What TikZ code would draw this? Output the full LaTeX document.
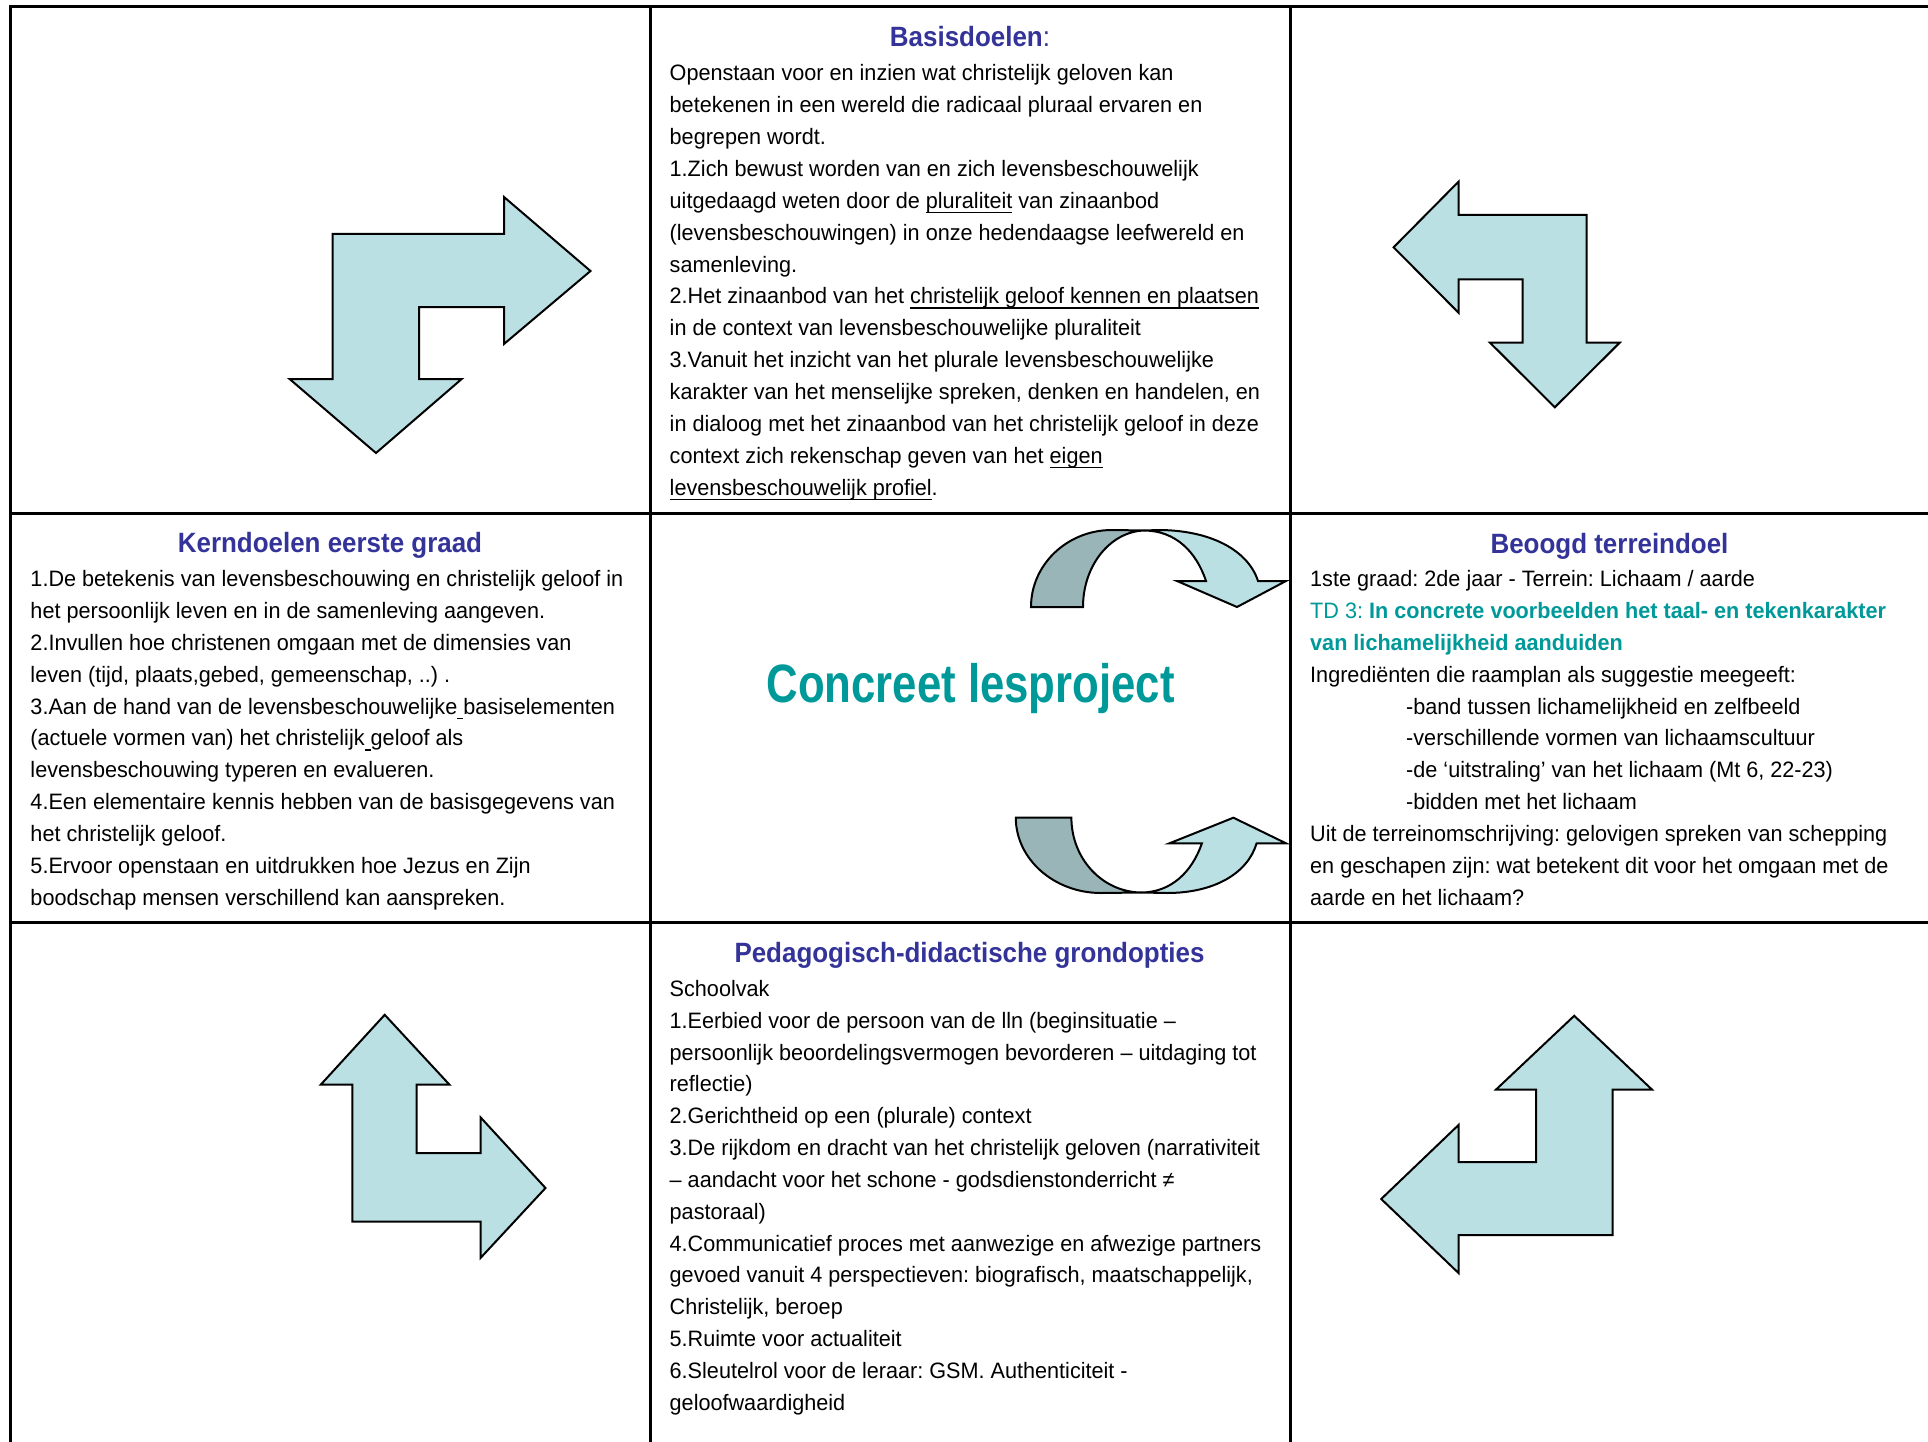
\documentclass[tikz,border=0pt]{standalone}
\usepackage{fontspec}
\setmainfont{Liberation Sans}[FakeStretch=0.97]
\newfontfamily\headfont{Liberation Sans}[FakeStretch=0.93]
\newfontfamily\titlefont{Liberation Sans}[FakeStretch=0.81]
\frenchspacing
\definecolor{headblue}{HTML}{333399}
\definecolor{tdteal}{HTML}{009999}
\definecolor{arrowlight}{HTML}{BBE0E3}
\definecolor{arrowdark}{HTML}{99B5B7}
\newcommand{\bodysize}{\fontsize{22.3}{31.85}\selectfont\frenchspacing}
\newcommand{\ulx}[1]{\setbox0=\hbox{#1}\rlap{\rule[-5pt]{\wd0}{1.5pt}}\box0\relax}
\tikzset{
  gridline/.style={line width=3pt, draw=black},
  bentarrow/.style={draw=black, line width=2pt, fill=arrowlight, line join=miter},
  curvelight/.style={draw=black, line width=2pt, fill=arrowlight, line join=miter},
  curvedark/.style={draw=black, line width=2pt, fill=arrowdark, line join=miter},
  bodytext/.style={anchor=base west, inner sep=0pt, font=\bodysize},
  headtext/.style={anchor=base, inner sep=0pt, text=headblue, font=\headfont\fontsize{27.9}{32}\selectfont},
  titletext/.style={anchor=base, inner sep=0pt, text=tdteal, font=\titlefont\bfseries\fontsize{54}{60}\selectfont},
}
\begin{document}
\begin{tikzpicture}[x=1pt, y=-1pt]
\useasboundingbox[fill=white] (0,0) rectangle (1928,1442);

% bent arrows
\draw[bentarrow] (332.5,234) -- (504,234) -- (504,197) -- (590.5,271) -- (504,344) -- (504,307) -- (419,307) -- (419,379) -- (461.7,379) -- (376,453) -- (289.6,379) -- (332.5,379) -- cycle;
\draw[bentarrow] (1458.5,181.7) -- (1393.6,247.3) -- (1458.5,312.7) -- (1458.5,279.3) -- (1522.6,279.3) -- (1522.6,342.7) -- (1490,342.7) -- (1554.8,407.3) -- (1619.7,342.7) -- (1586.6,342.7) -- (1586.6,215) -- (1458.5,215) -- cycle;
\draw[bentarrow] (384.7,1014.8) -- (449.5,1084.7) -- (416.7,1084.7) -- (416.7,1153) -- (480.6,1153) -- (480.6,1117.4) -- (545.5,1188) -- (480.6,1257.9) -- (480.6,1221.6) -- (352.3,1221.6) -- (352.3,1084.7) -- (320.7,1084.7) -- cycle;
\draw[bentarrow] (1574.2,1015.8) -- (1651.9,1089.5) -- (1612.6,1089.5) -- (1612.6,1235) -- (1458.5,1235) -- (1458.5,1273) -- (1381.2,1199) -- (1458.5,1125) -- (1458.5,1162) -- (1536.2,1162) -- (1536.2,1089.5) -- (1496.1,1089.5) -- cycle;

% curved arrow, top
\draw[curvedark] (1031,607) .. controls (1031,564.5) and (1067.3,530) .. (1112,530) -- (1145,530.5) .. controls (1110.8,531) and (1083,565) .. (1083,607) -- cycle;
\draw[curvelight] (1145,530.5) -- (1158,530) .. controls (1210,530) and (1248,550) .. (1258,581) -- (1286,581) -- (1237,607) -- (1177,581) -- (1206,581) .. controls (1196,551) and (1175,531) .. (1145,530.5) -- cycle;

% curved arrow, bottom
\draw[curvedark] (1015.8,817.7) .. controls (1015.8,859.1) and (1054.1,893) .. (1101,893) -- (1141,892.5) .. controls (1102.4,892) and (1071.4,858.8) .. (1071.4,817.7) -- cycle;
\draw[curvelight] (1141,892.5) -- (1167,893) .. controls (1214,893) and (1247.6,873.5) .. (1256.6,843.3) -- (1286,843.3) -- (1233.4,817.7) -- (1169.5,843.3) -- (1201.9,843.3) .. controls (1192,872) and (1171,892.5) .. (1141,892.5) -- cycle;

% grid
\draw[gridline] (9,7) -- (1928,7);
\draw[gridline] (9,513) -- (1928,513);
\draw[gridline] (9,922) -- (1928,922);
\draw[gridline] (10.5,5.5) -- (10.5,1442);
\draw[gridline] (650,5.5) -- (650,1442);
\draw[gridline] (1290,5.5) -- (1290,1442);

% Basisdoelen
\node[headtext] (basishead) at (970,47) {\bfseries Basisdoelen\mdseries:};
\node[bodytext] (basisbody) at (669.5,81) {\begin{tabular}[t]{@{}l@{}}
Openstaan voor en inzien wat christelijk geloven kan\\
betekenen in een wereld die radicaal pluraal ervaren en\\
begrepen wordt.\\
1.Zich bewust worden van en zich levensbeschouwelijk\\
uitgedaagd weten door de \ulx{pluraliteit} van zinaanbod\\
(levensbeschouwingen) in onze hedendaagse leefwereld en\\
samenleving.\\
2.Het zinaanbod van het \ulx{christelijk geloof kennen en plaatsen}\\
in de context van levensbeschouwelijke pluraliteit\\
3.Vanuit het inzicht van het plurale levensbeschouwelijke\\
karakter van het menselijke spreken, denken en handelen, en\\
in dialoog met het zinaanbod van het christelijk geloof in deze\\
context zich rekenschap geven van het \ulx{eigen}\\
\ulx{levensbeschouwelijk profiel}.
\end{tabular}};

% Kerndoelen
\node[headtext] (kernhead) at (330,552) {\bfseries Kerndoelen eerste graad};
\node[bodytext] (kernbody) at (30.3,586.7) {\begin{tabular}[t]{@{}l@{}}
1.De betekenis van levensbeschouwing en christelijk geloof in\\
het persoonlijk leven en in de samenleving aangeven.\\
2.Invullen hoe christenen omgaan met de dimensies van\\
leven (tijd, plaats,gebed, gemeenschap, ..) .\\
3.Aan de hand van de levensbeschouwelijke\ulx{\ }basiselementen\\
(actuele vormen van) het christelijk\ulx{\ }geloof als\\
levensbeschouwing typeren en evalueren.\\
4.Een elementaire kennis hebben van de basisgegevens van\\
het christelijk geloof.\\
5.Ervoor openstaan en uitdrukken hoe Jezus en Zijn\\
boodschap mensen verschillend kan aanspreken.
\end{tabular}};

% Concreet lesproject
\node[titletext] (title) at (970.6,702.5) {Concreet lesproject};

% Beoogd terreindoel
\node[headtext] (beooghead) at (1609.5,553) {\bfseries Beoogd terreindoel};
\node[bodytext] (beoogbody) at (1310,586.7) {\begin{tabular}[t]{@{}l@{}}
1ste graad: 2de jaar - Terrein: Lichaam / aarde\\
{\color{tdteal}TD 3: \bfseries In concrete voorbeelden het taal- en tekenkarakter}\\
{\color{tdteal}\bfseries van lichamelijkheid aanduiden}\\
Ingrediënten die raamplan als suggestie meegeeft:\\
\hspace*{96pt}-band tussen lichamelijkheid en zelfbeeld\\
\hspace*{96pt}-verschillende vormen van lichaamscultuur\\
\hspace*{96pt}-de ‘uitstraling’ van het lichaam (Mt 6, 22-23)\\
\hspace*{96pt}-bidden met het lichaam\\
Uit de terreinomschrijving: gelovigen spreken van schepping\\
en geschapen zijn: wat betekent dit voor het omgaan met de\\
aarde en het lichaam?
\end{tabular}};

% Pedagogisch-didactische grondopties
\node[headtext] (pedhead) at (969.5,962) {\bfseries Pedagogisch-didactische grondopties};
\node[bodytext] (pedbody) at (669.5,996.3) {\begin{tabular}[t]{@{}l@{}}
Schoolvak\\
1.Eerbied voor de persoon van de lln (beginsituatie –\\
persoonlijk beoordelingsvermogen bevorderen – uitdaging tot\\
reflectie)\\
2.Gerichtheid op een (plurale) context\\
3.De rijkdom en dracht van het christelijk geloven (narrativiteit\\
– aandacht voor het schone - godsdienstonderricht ≠\\
pastoraal)\\
4.Communicatief proces met aanwezige en afwezige partners\\
gevoed vanuit 4 perspectieven: biografisch, maatschappelijk,\\
Christelijk, beroep\\
5.Ruimte voor actualiteit\\
6.Sleutelrol voor de leraar: GSM. Authenticiteit -\\
geloofwaardigheid
\end{tabular}};
\end{tikzpicture}
\end{document}
